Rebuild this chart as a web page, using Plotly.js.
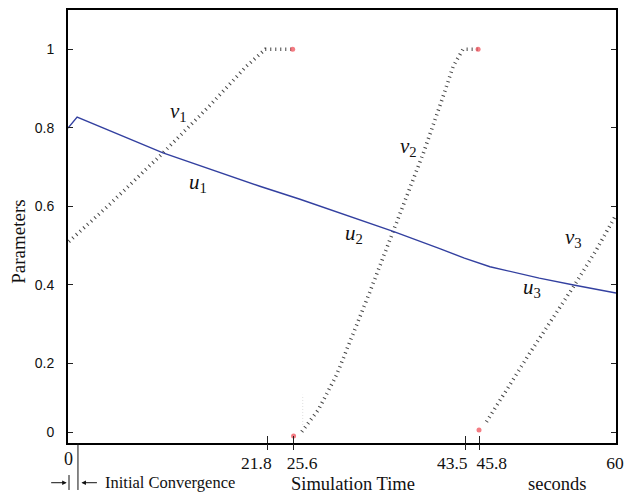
<!DOCTYPE html>
<html>
<head>
<meta charset="utf-8">
<script src="https://cdn.plot.ly/plotly-3.0.1.min.js"></script>
<style>html,body{margin:0;padding:0;background:#fff;}#chart{width:626px;height:495px;}</style>
</head>
<body>
<div id="chart"></div>
<script>
// ---- data ----
const uX = [0, 1.0, 10.4, 21.0, 25.4, 35.6, 40.7, 43.4, 46.2, 51.6, 55.5, 60];
const uY = [0.799, 0.827, 0.736, 0.651, 0.618, 0.536, 0.492, 0.468, 0.446, 0.417, 0.399, 0.379];

const v1X = [0.1, 4.57, 10.4, 15.5, 19.5, 21.6, 24.5];
const v1Y = [0.51, 0.605, 0.736, 0.856, 0.956, 1.0, 1.0];

const v2X = [25.6, 27.4, 29.4, 32.85, 35.6, 38.9, 41.06, 42.16, 43.25, 44.9];
const v2Y = [0.026, 0.081, 0.170, 0.37, 0.536, 0.735, 0.879, 0.956, 1.0, 1.0];

const v3X = [45.82, 50.56, 55.48, 57.85, 60];
const v3Y = [0.051, 0.226, 0.40, 0.489, 0.578];

const faintX = [25.7, 25.7];
const faintY = [0.043, 0.12];

const resetX = [24.6, 24.7, 44.9, 45.0];
const resetY = [1.0, 0.015, 1.0, 0.03];

const xTickVals = [21.8, 24.7, 43.5, 45.0, 60];
const xTickText = ["21.8", "25.6", "43.5", "45.8", "60"];
const yTickVals = [0.025, 0.2, 0.4, 0.6, 0.8, 1];
const yTickText = ["0", "0.2", "0.4", "0.6", "0.8", "1"];

const curveNames = ["v", "u", "v", "u", "v", "u"];
const curveSubs = ["1", "1", "2", "2", "3", "3"];

// ---- positions / styles ----
const curveLabelPos = [[12.1, 0.84], [14.2, 0.66], [37.3, 0.75], [31.3, 0.53], [55.4, 0.52], [50.8, 0.392]];
const xLabelShift = [-1.17, 0.94, -1.43, 1.39, -0.1];   // label offset from its tick (axis units)
const serif = "Liberation Serif, Times New Roman, serif";
const vLine = {color: "#444", width: 3.6, dash: "1px,4px"};

const traces = [
  {x: v1X, y: v1Y, mode: "lines", line: vLine, hoverinfo: "skip"},
  {x: v2X, y: v2Y, mode: "lines", line: vLine, hoverinfo: "skip"},
  {x: v3X, y: v3Y, mode: "lines", line: vLine, hoverinfo: "skip"},
  {x: faintX, y: faintY, mode: "lines", line: {color: "#ddd", width: 1, dash: "1px,2px"}, hoverinfo: "skip"},
  {x: uX, y: uY, mode: "lines", line: {color: "#3340a0", width: 1.4}, hoverinfo: "skip"},
  {x: resetX, y: resetY, mode: "markers", marker: {color: "rgba(240,80,90,0.75)", size: 5}, hoverinfo: "skip"}
];

const annotations = curveNames.map((n, i) => ({
  x: curveLabelPos[i][0], y: curveLabelPos[i][1], xref: "x", yref: "y", showarrow: false,
  xanchor: "center", yanchor: "middle",
  text: "<i>" + n + "</i><sub>" + curveSubs[i] + "</sub>",
  font: {family: serif, size: 21, color: "#111"}
}));

annotations.push(
  {x: 0, y: -0.037, xref: "x", yref: "paper", showarrow: false, text: "0",
   font: {family: serif, size: 18, color: "#111"}, xanchor: "center", yanchor: "middle"},
  {x: -0.0918, y: 0.464, xref: "paper", yref: "paper", showarrow: false, text: "Parameters",
   xanchor: "center", yanchor: "middle",
   textangle: -90, font: {family: serif, size: 19, color: "#111"}},
  {x: 0.5195, y: -0.0955, xref: "paper", yref: "paper", showarrow: false, text: "Simulation Time",
   xanchor: "center", yanchor: "middle", borderpad: 0,
   font: {family: serif, size: 18.5, color: "#111"}},
  {x: 0.8936, y: -0.0955, xref: "paper", yref: "paper", showarrow: false, text: "seconds",
   xanchor: "center", yanchor: "middle", borderpad: 0,
   font: {family: serif, size: 18.5, color: "#111"}},
  // arrow pointing right toward the start of the run
  {x: -0.0024, y: -0.0917, xref: "paper", yref: "paper", text: "", showarrow: true,
   ax: -17, ay: 0, arrowhead: 2, arrowsize: 0.9, arrowwidth: 1, arrowcolor: "#111", standoff: 0},
  // arrow pointing left toward the end of initial convergence
  {x: 0.0245, y: -0.0917, xref: "paper", yref: "paper", text: "", showarrow: true,
   ax: 17, ay: 0, arrowhead: 2, arrowsize: 0.9, arrowwidth: 1, arrowcolor: "#111", standoff: 0},
  {x: 0.0635, y: -0.0917, xref: "paper", yref: "paper", showarrow: false, text: "Initial Convergence",
   xanchor: "left", yanchor: "middle", font: {family: serif, size: 16.5, color: "#111"}}
);

const layout = {
  width: 626, height: 495,
  margin: {l: 68, r: 10, t: 10, b: 52},
  paper_bgcolor: "#fff", plot_bgcolor: "#fff",
  showlegend: false,
  xaxis: {
    range: [0, 60], showgrid: false, zeroline: false,
    showline: true, mirror: true, linecolor: "#000", linewidth: 2,
    ticks: "", tickmode: "array",
    tickvals: xTickVals.map((v, i) => v + xLabelShift[i]), ticktext: xTickText, tickangle: 0,
    tickfont: {family: serif, size: 17.5, color: "#111"}, ticklabelstandoff: 3
  },
  xaxis2: {
    range: [0, 60], overlaying: "x", anchor: "y", showgrid: false, zeroline: false, showline: false,
    ticks: "outside", ticklen: 6, tickwidth: 1, tickcolor: "#222",
    tickmode: "array", tickvals: xTickVals.slice(0, 4), showticklabels: false
  },
  xaxis3: {
    range: [0, 60], overlaying: "x", anchor: "y", showgrid: false, zeroline: false, showline: false,
    ticks: "inside", ticklen: 7, tickwidth: 1, tickcolor: "#222",
    tickmode: "array", tickvals: xTickVals.slice(0, 4), showticklabels: false
  },
  yaxis: {
    range: [-0.003, 1.1], showgrid: false, zeroline: false,
    showline: true, mirror: "ticks", linecolor: "#000", linewidth: 2,
    ticks: "inside", ticklen: 5, tickwidth: 1, tickcolor: "#222",
    tickmode: "array", tickvals: yTickVals, ticktext: yTickText,
    tickfont: {family: "Liberation Sans, Arial, sans-serif", size: 14, color: "#111"},
    ticklabelstandoff: 9
  },
  shapes: [
    {type: "line", xref: "x", yref: "paper", x0: 1.09, x1: 1.09, y0: 0, y1: -0.1085,
     line: {color: "#111", width: 1}},
    {type: "line", xref: "x", yref: "paper", x0: 0.11, x1: 0.11, y0: -0.074, y1: -0.1085,
     line: {color: "#111", width: 1}}
  ],
  annotations: annotations
};

// empty traces so the overlay tick axes are drawn
traces.push({x: [], y: [], xaxis: "x2", yaxis: "y", mode: "lines", hoverinfo: "skip"});
traces.push({x: [], y: [], xaxis: "x3", yaxis: "y", mode: "lines", hoverinfo: "skip"});

Plotly.newPlot("chart", traces, layout, {displayModeBar: false, staticPlot: true});
</script>
</body>
</html>
